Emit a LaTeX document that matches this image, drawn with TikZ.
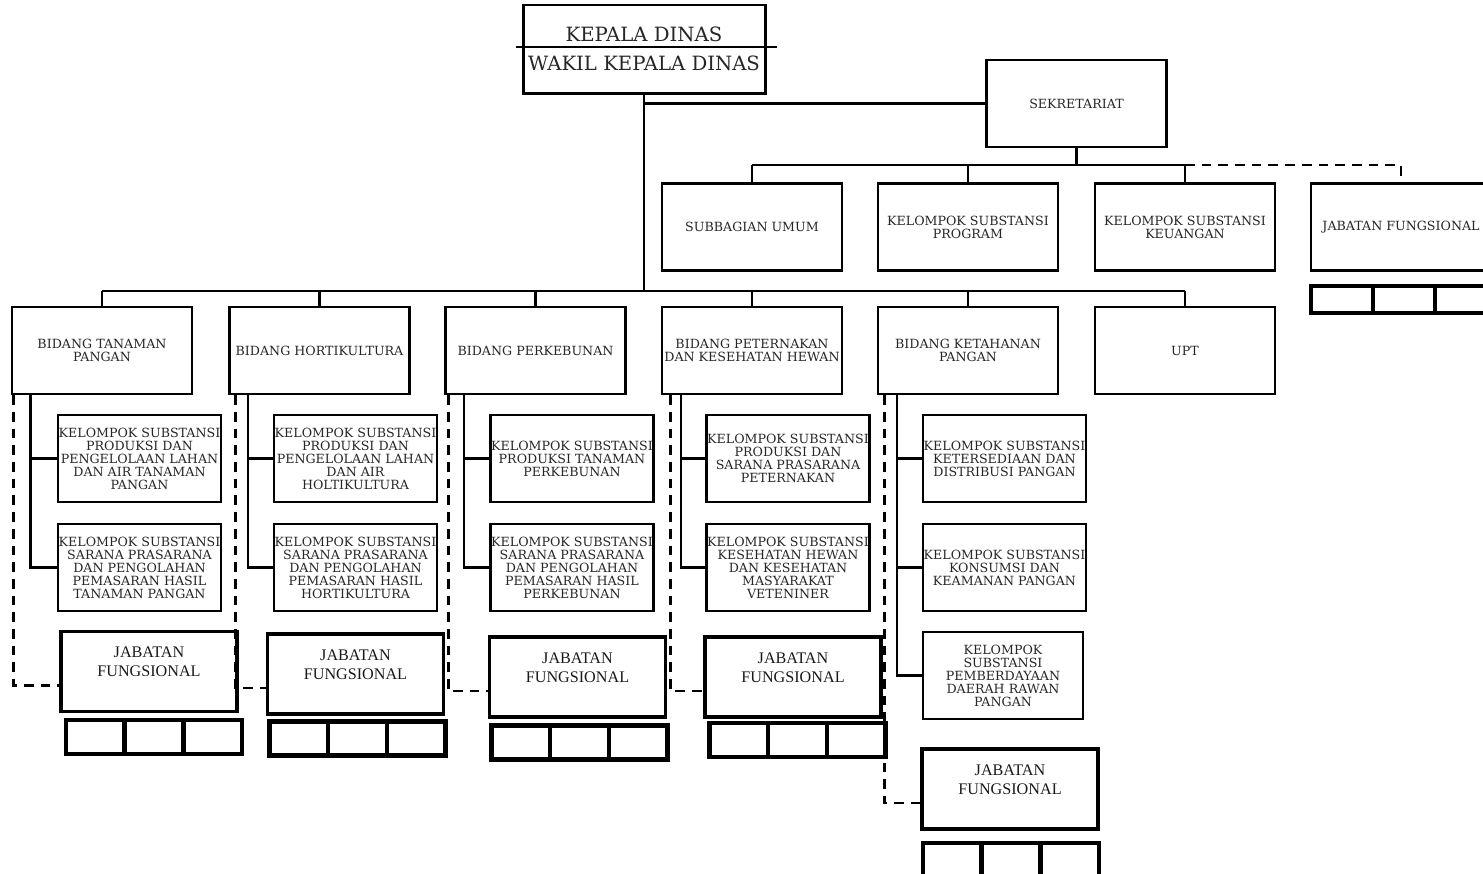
\documentclass[tikz,border=0pt]{standalone}
\usepackage{fontspec}
\usetikzlibrary{positioning,calc}
\newfontfamily\orgfont{DejaVu Serif}
\newfontfamily\jffont{Liberation Serif}
\newlength{\pxunit}
\setlength{\pxunit}{0.02cm}

\begin{document}
\begin{tikzpicture}[x=\pxunit,y=-\pxunit,align=center]
    \tikzstyle{unit} = [draw,line width=1.5pt,minimum width=180\pxunit,minimum height=87\pxunit,inner sep=0pt,text=black!85,font=\orgfont\fontsize{7.2}{7.4}\selectfont]
    \tikzstyle{subunit} = [unit,minimum width=163\pxunit]
    \tikzstyle{jfbox} = [draw,line width=2.1pt,minimum width=176\pxunit,minimum height=80\pxunit,inner sep=0pt,text=black!90,font=\jffont\fontsize{9.2}{10.8}\selectfont]
    \tikzstyle{cell} = [draw,line width=2.6pt,minimum width=58.7\pxunit,minimum height=34\pxunit,inner sep=0pt]
    \tikzstyle{link} = [line width=1.35pt]
    \tikzstyle{dashlink} = [line width=1.6pt,dash pattern=on 5.5pt off 4pt]
      \useasboundingbox (0,0) rectangle (1483,873);
      \clip (0,0) rectangle (1483,873);
      % top
      \node[draw,line width=1.7pt,minimum width=242\pxunit,minimum height=88\pxunit,inner sep=0pt,text=black!85,font=\orgfont\fontsize{11.2}{16.4}\selectfont] (kadis) at (644,49) {KEPALA DINAS\\WAKIL KEPALA DINAS};
      \draw[link] ($(kadis.west)+(-6,-2)$) -- ($(kadis.east)+(10,-2)$);
      \node[unit] (sekre) at (1076.5,103.5) {SEKRETARIAT};
      \node[unit] (subum) at (752,227) {SUBBAGIAN UMUM};
      \node[unit] (ksprog) at (968,227) {KELOMPOK SUBSTANSI\\PROGRAM};
      \node[unit] (kskeu) at (1185,227) {KELOMPOK SUBSTANSI\\KEUANGAN};
      \node[unit] (jfsek) at (1401,227) {JABATAN FUNGSIONAL};
      \foreach \i in {1,2,3} \node[cell,minimum width=62\pxunit,minimum height=27\pxunit] (cellsek\i) at ({1280+\i*62},299.5) {};
      % bidang
      \node[unit] (bidTP) at (102,350.5) {BIDANG TANAMAN\\PANGAN};
      \node[unit] (bidHO) at (319.5,350.5) {BIDANG HORTIKULTURA};
      \node[unit] (bidPB) at (535.5,350.5) {BIDANG PERKEBUNAN};
      \node[unit] (bidPT) at (752,350.5) {BIDANG PETERNAKAN\\DAN KESEHATAN HEWAN};
      \node[unit] (bidKP) at (968,350.5) {BIDANG KETAHANAN\\PANGAN};
      \node[unit] (upt) at (1185,350.5) {UPT};
      % kelompok substansi
      \node[subunit] (subTP1) at (139.5,458.5) {KELOMPOK SUBSTANSI\\PRODUKSI DAN\\PENGELOLAAN LAHAN\\DAN AIR TANAMAN\\PANGAN};
      \node[subunit] (subTP2) at (139.5,567.5) {KELOMPOK SUBSTANSI\\SARANA PRASARANA\\DAN PENGOLAHAN\\PEMASARAN HASIL\\TANAMAN PANGAN};
      \node[subunit] (subHO1) at (355.5,458.5) {KELOMPOK SUBSTANSI\\PRODUKSI DAN\\PENGELOLAAN LAHAN\\DAN AIR\\HOLTIKULTURA};
      \node[subunit] (subHO2) at (355.5,567.5) {KELOMPOK SUBSTANSI\\SARANA PRASARANA\\DAN PENGOLAHAN\\PEMASARAN HASIL\\HORTIKULTURA};
      \node[subunit] (subPB1) at (572,458.5) {KELOMPOK SUBSTANSI\\PRODUKSI TANAMAN\\PERKEBUNAN};
      \node[subunit] (subPB2) at (572,567.5) {KELOMPOK SUBSTANSI\\SARANA PRASARANA\\DAN PENGOLAHAN\\PEMASARAN HASIL\\PERKEBUNAN};
      \node[subunit] (subPT1) at (788,458.5) {KELOMPOK SUBSTANSI\\PRODUKSI DAN\\SARANA PRASARANA\\PETERNAKAN};
      \node[subunit] (subPT2) at (788,567.5) {KELOMPOK SUBSTANSI\\KESEHATAN HEWAN\\DAN KESEHATAN\\MASYARAKAT\\VETENINER};
      \node[subunit] (subKP1) at (1004.5,458.5) {KELOMPOK SUBSTANSI\\KETERSEDIAAN DAN\\DISTRIBUSI PANGAN};
      \node[subunit] (subKP2) at (1004.5,567.5) {KELOMPOK SUBSTANSI\\KONSUMSI DAN\\KEAMANAN PANGAN};
      \node[subunit,minimum width=160\pxunit] (subKP3) at (1003,675.5) {KELOMPOK\\SUBSTANSI\\PEMBERDAYAAN\\DAERAH RAWAN\\PANGAN};
      % jabatan fungsional
      \foreach \s/\cx/\cy in {TP/149/671.5,HO/355.5/674,PB/577.5/677,PT/793/677,KP/1010/789}
        \node[jfbox] (jf\s) at (\cx,\cy) {JABATAN\\FUNGSIONAL\\[-3pt]\strut};
      \foreach \s/\cx/\cy in {TP/154/737,HO/357.5/738.5,PB/579.5/742.5,PT/797.5/740,KP/1011/860}
        \foreach \i in {1,2,3} \node[cell] (cell\s\i) at ({\cx+(\i-2)*58.7},\cy) {};
      % connectors
      \coordinate (bussek) at (0,165);
      \coordinate (busbid) at (0,291);
      \draw[link] (kadis.south) -- (kadis.south |- busbid);
      \draw[link] (kadis.south |- sekre.west) -- (sekre.west);
      \draw[link] (sekre.south) -- (sekre.south |- bussek);
      \draw[link] (subum.north |- bussek) -- (kskeu.north |- bussek);
      \foreach \n in {subum,ksprog,kskeu} \draw[link] (\n.north |- bussek) -- (\n.north);
      \draw[dashlink] (kskeu.north |- bussek) -| (jfsek.north);
      \draw[link] (bidTP.north |- busbid) -- (upt.north |- busbid);
      \foreach \n in {bidTP,bidHO,bidPB,bidPT,bidKP,upt} \draw[link] (\n.north |- busbid) -- (\n.north);
      \foreach \s in {TP,HO,PB,PT,KP} {
        \draw[link] ($(bid\s.south west)+(20,0)$) |- (sub\s1.west);
        \draw[link] ($(bid\s.south west)+(20,0)$) |- (sub\s2.west);
      }
      \draw[link] ($(bidKP.south west)+(20,0)$) |- (subKP3.west);
      \foreach \s/\d in {TP/3,HO/7,PB/4,PT/10,KP/8}
        \draw[dashlink] ($(bid\s.south west)+(\d,0)$) |- ($(jf\s.west)+(0,14)$);
  \end{tikzpicture}
\end{document}
